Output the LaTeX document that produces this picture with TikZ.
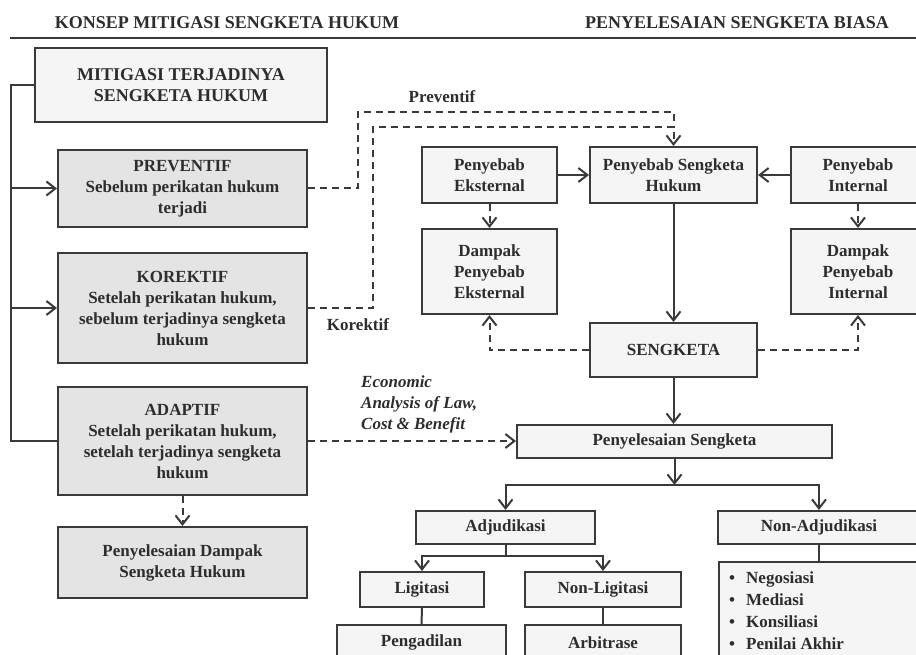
\documentclass[tikz,border=0pt]{standalone}
\usepackage{fontspec}
\setmainfont{Liberation Serif}
\definecolor{lgray}{RGB}{58,58,58}
\definecolor{txtgray}{RGB}{45,45,45}
\definecolor{fillsoft}{RGB}{245,245,245}
\definecolor{fillmid}{RGB}{228,228,228}
\usepackage{tikz}
\usetikzlibrary{arrows.meta, positioning, calc}
\newcommand{\boxfont}{\fontsize{17}{21}\selectfont\bfseries}
\newcommand{\headfont}{\fontsize{18}{20.5}\selectfont\bfseries}
\newcommand{\listfont}{\fontsize{17}{21.7}\selectfont\bfseries}
\newcommand{\bul}{\makebox[17pt][l]{\textbullet}}

\begin{document}
\begin{tikzpicture}[x=1pt, y=-1pt,
  box/.style={draw=lgray, line width=2pt, fill=fillsoft, text=txtgray, inner sep=0pt, align=center, font=\boxfont},
  gbox/.style={box, fill=fillmid},
  head/.style={text=txtgray, font=\headfont, inner sep=0pt},
  lbl/.style={text=txtgray, font=\boxfont, inner sep=0pt},
  ln/.style={draw=lgray, line width=2pt},
  arr/.style={ln, -{Straight Barb[length=9pt,width=14pt]}},
  dsh/.style={ln, dash pattern=on 7pt off 5pt},
  darr/.style={dsh, -{Straight Barb[length=9pt,width=14pt]}},
]
  \path[use as bounding box, clip] (0,0) rectangle (916,655);

  \node[head] (tl) at (227,23) {KONSEP MITIGASI SENGKETA HUKUM};
  \node[head] (tr) at (737,23) {PENYELESAIAN SENGKETA BIASA};
  \draw[draw=lgray, line width=2.5pt] (10,38) -- (916,38);

  \node[box, font=\headfont, minimum width=292pt, minimum height=74pt] (mitig) at (181,85) {MITIGASI TERJADINYA\\SENGKETA HUKUM};
  \node[gbox, minimum width=249pt, minimum height=77pt]  (prev)  at (182.5,188.5) {PREVENTIF\\Sebelum perikatan hukum\\terjadi};
  \node[gbox, minimum width=249pt, minimum height=110pt] (kor)   at (182.5,308) {KOREKTIF\\Setelah perikatan hukum,\\sebelum terjadinya sengketa\\hukum};
  \node[gbox, minimum width=249pt, minimum height=108pt] (adap)  at (182.5,441) {ADAPTIF\\Setelah perikatan hukum,\\setelah terjadinya sengketa\\hukum};
  \node[gbox, minimum width=249pt, minimum height=71pt]  (penda) at (182.5,562.5) {Penyelesaian Dampak\\Sengketa Hukum};

  \node[box, minimum width=135pt, minimum height=56pt] (pe)  at (489.5,175) {Penyebab\\Eksternal};
  \node[box, minimum width=167pt, minimum height=56pt] (ps)  at (673.5,175) {Penyebab Sengketa\\Hukum};
  \node[box, minimum width=134pt, minimum height=56pt] (pi)  at (858,175) {Penyebab\\Internal};
  \node[box, minimum width=135pt, minimum height=85pt] (dpe) at (489.5,271.5) {Dampak\\Penyebab\\Eksternal};
  \node[box, minimum width=134pt, minimum height=85pt] (dpi) at (858,271.5) {Dampak\\Penyebab\\Internal};
  \node[box, minimum width=167pt, minimum height=54pt] (sk)  at (673.5,350) {SENGKETA};

  \node[box, minimum width=315pt, minimum height=33pt] (pen)  at (674.5,441.5) {Penyelesaian Sengketa};
  \node[box, minimum width=179pt, minimum height=33pt] (adj)  at (505.5,527.5) {Adjudikasi};
  \node[box, minimum width=202pt, minimum height=33pt] (nadj) at (819,527.5) {Non-Adjudikasi};
  \node[box, minimum width=124pt, minimum height=35pt] (lig)  at (422,589.5) {Ligitasi};
  \node[box, minimum width=156pt, minimum height=35pt] (nlig) at (603,589.5) {Non-Ligitasi};
  \node[box, minimum width=169pt, minimum height=35pt] (peng) at (421.5,642.5) {Pengadilan};
  \node[box, minimum width=156pt, minimum height=35pt] (arb)  at (603,642.5) {Arbitrase};
  \node[box, anchor=north west, minimum width=202pt, minimum height=120pt] (lst) at (718,561) {};
  \node[lbl, font=\listfont, align=left, anchor=north west] (items) at (729,572) {\bul Negosiasi\\\bul Mediasi\\\bul Konsiliasi\\\bul Penilai Akhir};

  \node[lbl] (lprev) at (442,97) {Preventif};
  \node[lbl] (lkor) at (358,325) {Korektif};
  \node[lbl, font=\boxfont\itshape, align=left, anchor=west] (eco) at (361,404) {Economic\\Analysis of Law,\\Cost \& Benefit};

  \coordinate (tk) at (11,85);
  \coordinate (pv) at (358,112);
  \coordinate (kv) at (373,127);
  \coordinate (sp1) at (674.5,485);
  \coordinate (sp2) at (505.5,556);

  \draw[ln] (mitig.west) -- (tk) -- (tk |- adap.west) -- (adap.west);
  \draw[arr] (tk |- prev.west) -- (prev.west);
  \draw[arr] (tk |- kor.west) -- (kor.west);
  \draw[darr] (adap.south) -- (penda.north);

  \draw[dsh] (prev.east) -| (pv) -| (ps.north |- kv);
  \draw[darr] (kor.east) -| (kv) -| (ps.north);
  \draw[darr] (adap.east) -- (adap.east -| pen.west);

  \draw[arr] (pe) -- (ps);
  \draw[arr] (pi) -- (ps);
  \draw[darr] (pe) -- (dpe);
  \draw[darr] (pi) -- (dpi);
  \draw[arr] (ps) -- (sk);
  \draw[darr] (sk.west) -| (dpe.south);
  \draw[darr] (sk.east) -| (dpi.south);
  \draw[arr] (sk.south) -- (sk.south |- pen.north);

  \draw[arr] (pen.south) -- (sp1);
  \draw[arr] (sp1) -| (adj.north);
  \draw[arr] (sp1) -| (nadj.north);
  \draw[ln] (adj.south) -- (sp2);
  \draw[arr] (sp2) -| (lig.north);
  \draw[arr] (sp2) -| (nlig.north);
  \draw[ln] (lig) -- (peng);
  \draw[ln] (nlig) -- (arb);
  \draw[ln] (nadj) -- (nadj |- lst.north);
\end{tikzpicture}
\end{document}
